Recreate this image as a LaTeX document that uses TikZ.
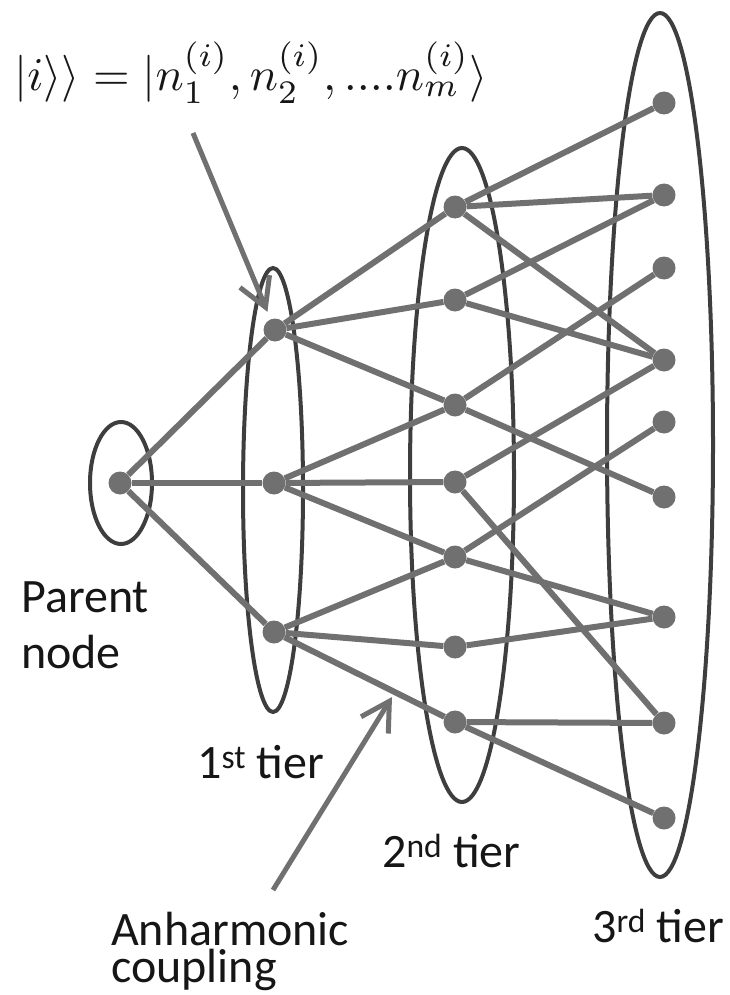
\documentclass[tikz,border=0pt]{standalone}
\usepackage{amsmath}
\usepackage{graphicx}
\usepackage{fontspec}
\usetikzlibrary{arrows.meta}
\newfontfamily\calfont{Carlito}
\definecolor{edgegray}{RGB}{112,112,112}
\definecolor{ringgray}{RGB}{62,62,62}
\definecolor{inkgray}{RGB}{22,22,22}

\begin{document}
\begin{tikzpicture}[x=1pt, y=-1pt,
    dot/.style={circle,fill=edgegray,inner sep=0pt,minimum size=23pt},
    edge/.style={edgegray,line width=6pt},
    ring/.style={ringgray,line width=4pt},
    pointer/.style={edgegray,line width=5pt,-{Straight Barb[length=28pt,width=32pt,line width=5pt]}},
    tierlabel/.style={inner sep=0pt,text=inkgray,font=\calfont\fontsize{48}{56}\selectfont}]
    \useasboundingbox (0,0) rectangle (730,995);

    \draw[ring] (121,483) ellipse [x radius=31pt, y radius=61pt];
    \draw[ring] (273,490) ellipse [x radius=30pt, y radius=222pt];
    \draw[ring] (462,475) ellipse [x radius=52pt, y radius=327pt];
    \draw[ring] (660,445) ellipse [x radius=53pt, y radius=432pt];

    \node[dot] (p) at (120,483) {};

    \node[dot] (a1) at (275,330) {};
    \node[dot] (a2) at (274,483) {};
    \node[dot] (a3) at (274,632) {};

    \node[dot] (b1) at (455,207) {};
    \node[dot] (b2) at (455,300) {};
    \node[dot] (b3) at (455,405) {};
    \node[dot] (b4) at (455,482) {};
    \node[dot] (b5) at (455,557) {};
    \node[dot] (b6) at (455,647) {};
    \node[dot] (b7) at (455,722) {};

    \node[dot] (c1) at (664,103) {};
    \node[dot] (c2) at (664,195) {};
    \node[dot] (c3) at (664,268) {};
    \node[dot] (c4) at (664,360) {};
    \node[dot] (c5) at (664,422) {};
    \node[dot] (c6) at (664,497) {};
    \node[dot] (c7) at (664,617) {};
    \node[dot] (c8) at (664,723) {};
    \node[dot] (c9) at (664,818) {};

    \draw[edge] (p)--(a1);
    \draw[edge] (p)--(a2);
    \draw[edge] (p)--(a3);

    \draw[edge] (a1)--(b1);
    \draw[edge] (a1)--(b2);
    \draw[edge] (a1)--(b3);
    \draw[edge] (a2)--(b3);
    \draw[edge] (a2)--(b4);
    \draw[edge] (a2)--(b5);
    \draw[edge] (a3)--(b5);
    \draw[edge] (a3)--(b6);
    \draw[edge] (a3)--(b7);

    \draw[edge] (b1)--(c1);
    \draw[edge] (b1)--(c2);
    \draw[edge] (b1)--(c4);
    \draw[edge] (b2)--(c2);
    \draw[edge] (b2)--(c4);
    \draw[edge] (b3)--(c3);
    \draw[edge] (b3)--(c6);
    \draw[edge] (b4)--(c4);
    \draw[edge] (b4)--(c8);
    \draw[edge] (b5)--(c5);
    \draw[edge] (b5)--(c7);
    \draw[edge] (b6)--(c7);
    \draw[edge] (b7)--(c8);
    \draw[edge] (b7)--(c9);

    \node[anchor=base west,inner sep=0pt,text=inkgray] (ket) at (14,91)
        {\scalebox{4.7}{$|i\rangle\rangle=|n_1^{(i)},n_2^{(i)},....n_m^{(i)}\rangle$}};
    \coordinate (kettail) at (193,133);
    \draw[pointer,shorten >=8pt] (kettail)--(a1);

    \coordinate (couptail) at (273,890);
    \coordinate (couptip) at (392,697);
    \draw[pointer] (couptail)--(couptip);

    \node[tierlabel,anchor=base west,align=left] (parent) at (21,668) {Parent\\node};
    \node[tierlabel,anchor=base west] (tier1) at (197,778) {1\textsuperscript{st} tier};
    \node[tierlabel,anchor=base west] (tier2) at (382,867) {2\textsuperscript{nd} tier};
    \node[tierlabel,anchor=base west] (tier3) at (592,942) {3\textsuperscript{rd} tier};
    \node[tierlabel,anchor=base west,align=left,font=\calfont\fontsize{48}{37}\selectfont] (coupling) at (111,982) {Anharmonic\\coupling};
\end{tikzpicture}
\end{document}
